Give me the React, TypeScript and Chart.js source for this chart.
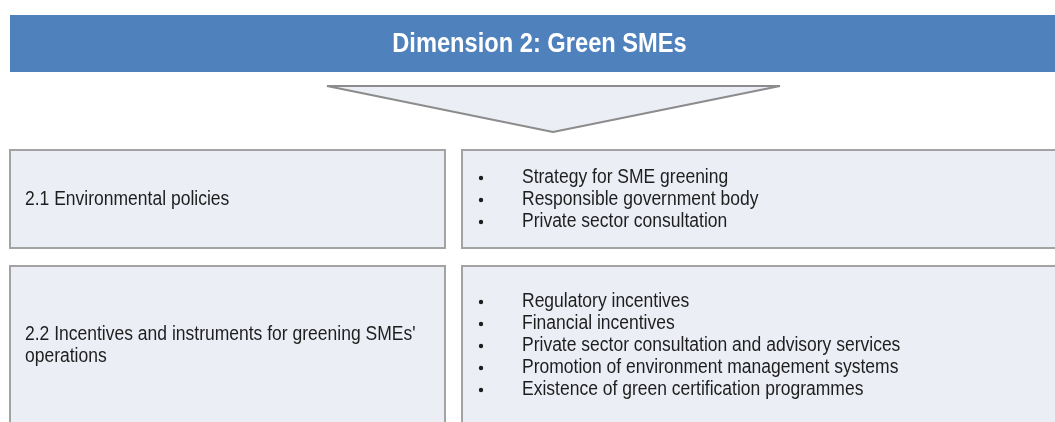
import React, { useEffect, useRef } from "react";
import { Chart, registerables } from "chart.js";

Chart.register(...registerables);

// ---- Content (text data) ----
const TITLE = "Dimension 2: Green SMEs";
const SUB_DIMENSIONS = [
  "2.1 Environmental policies",
  "2.2 Incentives and instruments for greening SMEs' operations",
];
const INDICATORS_2_1 = [
  "Strategy for SME greening",
  "Responsible government body",
  "Private sector consultation",
];
const INDICATORS_2_2 = [
  "Regulatory incentives",
  "Financial incentives",
  "Private sector consultation and advisory services",
  "Promotion of environment management systems",
  "Existence of green certification programmes",
];
const INDICATOR_GROUPS = [INDICATORS_2_1, INDICATORS_2_2];

// ---- Layout / style ----
const W = 1055;
const H = 422;
const FONT = '"Liberation Sans", Arial, sans-serif';
const BLUE = "#4f81bd";
const BOX_FILL = "#eceef6";
const BOX_STROKE = "#a3a3a3";
const TEXT = "#1e1e1e";
const ROWS = [
  { top: 150, bottom: 248 },
  { top: 266, bottom: 424 },
];
const LEFT_BOX = { x0: 10, x1: 445 };
const RIGHT_BOX = { x0: 462, x1: 1062 };
const LINE_H = 22;
const BODY_SX = 0.875;
const TITLE_SX = 0.845;

function drawScaled(ctx: CanvasRenderingContext2D, text: string, x: number, y: number, sx: number) {
  ctx.save();
  ctx.translate(x, y);
  ctx.scale(sx, 1);
  ctx.fillText(text, 0, 0);
  ctx.restore();
}

function wrap(ctx: CanvasRenderingContext2D, text: string, maxW: number, sx: number): string[] {
  const words = text.split(" ");
  const lines: string[] = [];
  let cur = "";
  for (const w of words) {
    const t = cur ? cur + " " + w : w;
    if (ctx.measureText(t).width * sx > maxW && cur) {
      lines.push(cur);
      cur = w;
    } else cur = t;
  }
  if (cur) lines.push(cur);
  return lines;
}

const diagramPlugin = {
  id: "diagram",
  beforeDatasetsDraw(chart: any) {
    const ctx: CanvasRenderingContext2D = chart.ctx;
    const xs = chart.scales.x;
    const ys = chart.scales.y;
    const px = (v: number) => xs.getPixelForValue(v);
    const py = (v: number) => ys.getPixelForValue(v);

    ctx.save();
    ctx.fillStyle = "#ffffff";
    ctx.fillRect(0, 0, chart.width, chart.height);

    // Banner
    ctx.fillStyle = BLUE;
    ctx.fillRect(px(10), py(15), px(1062) - px(10), py(72) - py(15));
    ctx.fillStyle = "#ffffff";
    ctx.font = `bold 28px ${FONT}`;
    ctx.textAlign = "center";
    ctx.textBaseline = "middle";
    drawScaled(ctx, TITLE, px(539.5), py(44), TITLE_SX);

    // Arrow triangle
    ctx.beginPath();
    ctx.moveTo(px(327), py(86));
    ctx.lineTo(px(780), py(86));
    ctx.lineTo(px(553), py(132));
    ctx.closePath();
    ctx.fillStyle = BOX_FILL;
    ctx.fill();
    ctx.strokeStyle = "#8c8c8c";
    ctx.lineWidth = 2;
    ctx.lineJoin = "bevel";
    ctx.stroke();

    // Rows
    ROWS.forEach((row, i) => {
      const t = py(row.top);
      const b = py(row.bottom);
      const cy = (t + b) / 2;
      [LEFT_BOX, RIGHT_BOX].forEach((bx) => {
        const l = px(bx.x0);
        const r = px(bx.x1);
        ctx.fillStyle = BOX_FILL;
        ctx.fillRect(l, t, r - l, b - t);
        ctx.strokeStyle = BOX_STROKE;
        ctx.lineWidth = 2;
        ctx.lineJoin = "miter";
        ctx.strokeRect(l, t, r - l, b - t);
      });

      ctx.fillStyle = TEXT;
      ctx.textAlign = "left";
      ctx.textBaseline = "middle";
      ctx.font = `20px ${FONT}`;

      // left label
      const lines = wrap(ctx, SUB_DIMENSIONS[i], px(LEFT_BOX.x1) - px(LEFT_BOX.x0) - 30, BODY_SX);
      const y0 = cy - ((lines.length - 1) * LINE_H) / 2;
      lines.forEach((ln, k) => drawScaled(ctx, ln, px(25), y0 + k * LINE_H, BODY_SX));

      // bullets
      const items = INDICATOR_GROUPS[i];
      const by0 = cy - ((items.length - 1) * LINE_H) / 2;
      items.forEach((it, k) => {
        const yy = by0 + k * LINE_H;
        ctx.beginPath();
        ctx.arc(px(481), yy + 1, 2.2, 0, Math.PI * 2);
        ctx.fill();
        drawScaled(ctx, it, px(522), yy, BODY_SX);
      });
    });

    ctx.restore();
  },
};

export default function App() {
  const ref = useRef<HTMLCanvasElement | null>(null);
  useEffect(() => {
    document.body.style.margin = "0";
    const canvas = ref.current;
    if (!canvas) return;
    const chart = new Chart(canvas, {
      type: "scatter",
      data: { datasets: [{ data: [], showLine: false }] },
      options: {
        animation: false,
        responsive: false,
        devicePixelRatio: 1,
        layout: { padding: 0 },
        plugins: { legend: { display: false }, tooltip: { enabled: false } },
        scales: {
          x: { type: "linear", min: 0, max: W, display: false },
          y: { type: "linear", min: 0, max: H, reverse: true, display: false },
        },
      },
      plugins: [diagramPlugin],
    });
    return () => chart.destroy();
  }, []);
  return (
    <div style={{ position: "fixed", left: 0, top: 0, width: W, height: H }}>
      <canvas ref={ref} width={W} height={H} style={{ display: "block" }} />
    </div>
  );
}
